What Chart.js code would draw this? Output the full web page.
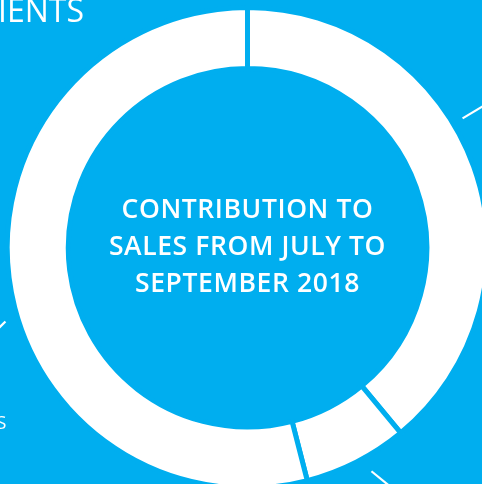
<!DOCTYPE html>
<html>
<head>
<meta charset="utf-8">
<script src="https://cdn.jsdelivr.net/npm/chart.js@4.4.0/dist/chart.umd.min.js"></script>
<style>
  html, body { margin: 0; padding: 0; background: #00AEEF; overflow: hidden; width: 482px; height: 484px; }
  #wrap { position: absolute; left: 0; top: 0; width: 482px; height: 484px; }
</style>
</head>
<body>
<div id="wrap"><canvas id="c" width="482" height="484"></canvas></div>
<script>
// Data (share of sales, %)
const categories = ["Segment A", "Segment B", "Segment C"];
const salesShare = [39, 7, 54];
const centerLines = ["CONTRIBUTION TO", "SALES FROM JULY TO", "SEPTEMBER 2018"];
const fragmentTop = "IENTS";
const fragmentLeft = "S";

const BLUE = "#00AEEF";
const FONT = "'Open Sans', 'Noto Sans', sans-serif";

const decor = {
  id: "decor",
  afterDatasetsDraw(chart) {
    const ctx = chart.ctx;
    const arcs = chart.getDatasetMeta(0).data;
    const a0 = arcs[0];
    const cx = a0.x, cy = a0.y;
    ctx.save();
    // leader lines anchored to each arc
    const leaders = [
      { f: 0.42, r: 251, dir: null, len: 40 },
      { f: 0.42, r: 255.5, dir: Math.atan2(13.3, 16.3), len: 30 },
      { f: 0.45, r: 253, dir: Math.atan2(5, -5), len: 20 }
    ];
    ctx.strokeStyle = "#ffffff";
    ctx.lineWidth = 2.2;
    ctx.lineCap = "butt";
    arcs.forEach((arc, i) => {
      const L = leaders[i];
      const ang = arc.startAngle + L.f * (arc.endAngle - arc.startAngle);
      const x1 = cx + L.r * Math.cos(ang);
      const y1 = cy + L.r * Math.sin(ang);
      const d = L.dir === null ? ang : L.dir;
      ctx.beginPath();
      ctx.moveTo(x1, y1);
      ctx.lineTo(x1 + L.len * Math.cos(d), y1 + L.len * Math.sin(d));
      ctx.stroke();
    });
    // center text
    ctx.fillStyle = "#ffffff";
    ctx.textAlign = "center";
    ctx.textBaseline = "alphabetic";
    ctx.font = "600 26.5px " + FONT;
    if ("letterSpacing" in ctx) ctx.letterSpacing = "0.6px";
    const offs = [-29.5, 7.2, 43.9];
    centerLines.forEach((t, i) => ctx.fillText(t, cx, cy + offs[i]));
    if ("letterSpacing" in ctx) ctx.letterSpacing = "0px";
    // cropped fragments of surrounding labels
    ctx.textAlign = "left";
    ctx.font = "32px " + FONT;
    ctx.fillText(fragmentTop, -2, 21.5);
    ctx.font = "19px " + FONT;
    ctx.fillText(fragmentLeft, -4, 428.5);
    ctx.restore();
  }
};

new Chart(document.getElementById("c"), {
  type: "doughnut",
  data: {
    labels: categories,
    datasets: [{
      data: salesShare,
      backgroundColor: "#ffffff",
      borderColor: BLUE,
      borderWidth: 5,
      borderJoinStyle: "miter",
      hoverOffset: 0,
      clip: false
    }]
  },
  options: {
    responsive: false,
    animation: false,
    radius: 240.3,
    cutout: "74.6%",
    rotation: 0,
    layout: { padding: { left: 13, top: 11.6, right: 0, bottom: 0 } },
    events: [],
    plugins: { legend: { display: false }, tooltip: { enabled: false }, title: { display: false } }
  },
  plugins: [decor]
});
</script>
</body>
</html>
